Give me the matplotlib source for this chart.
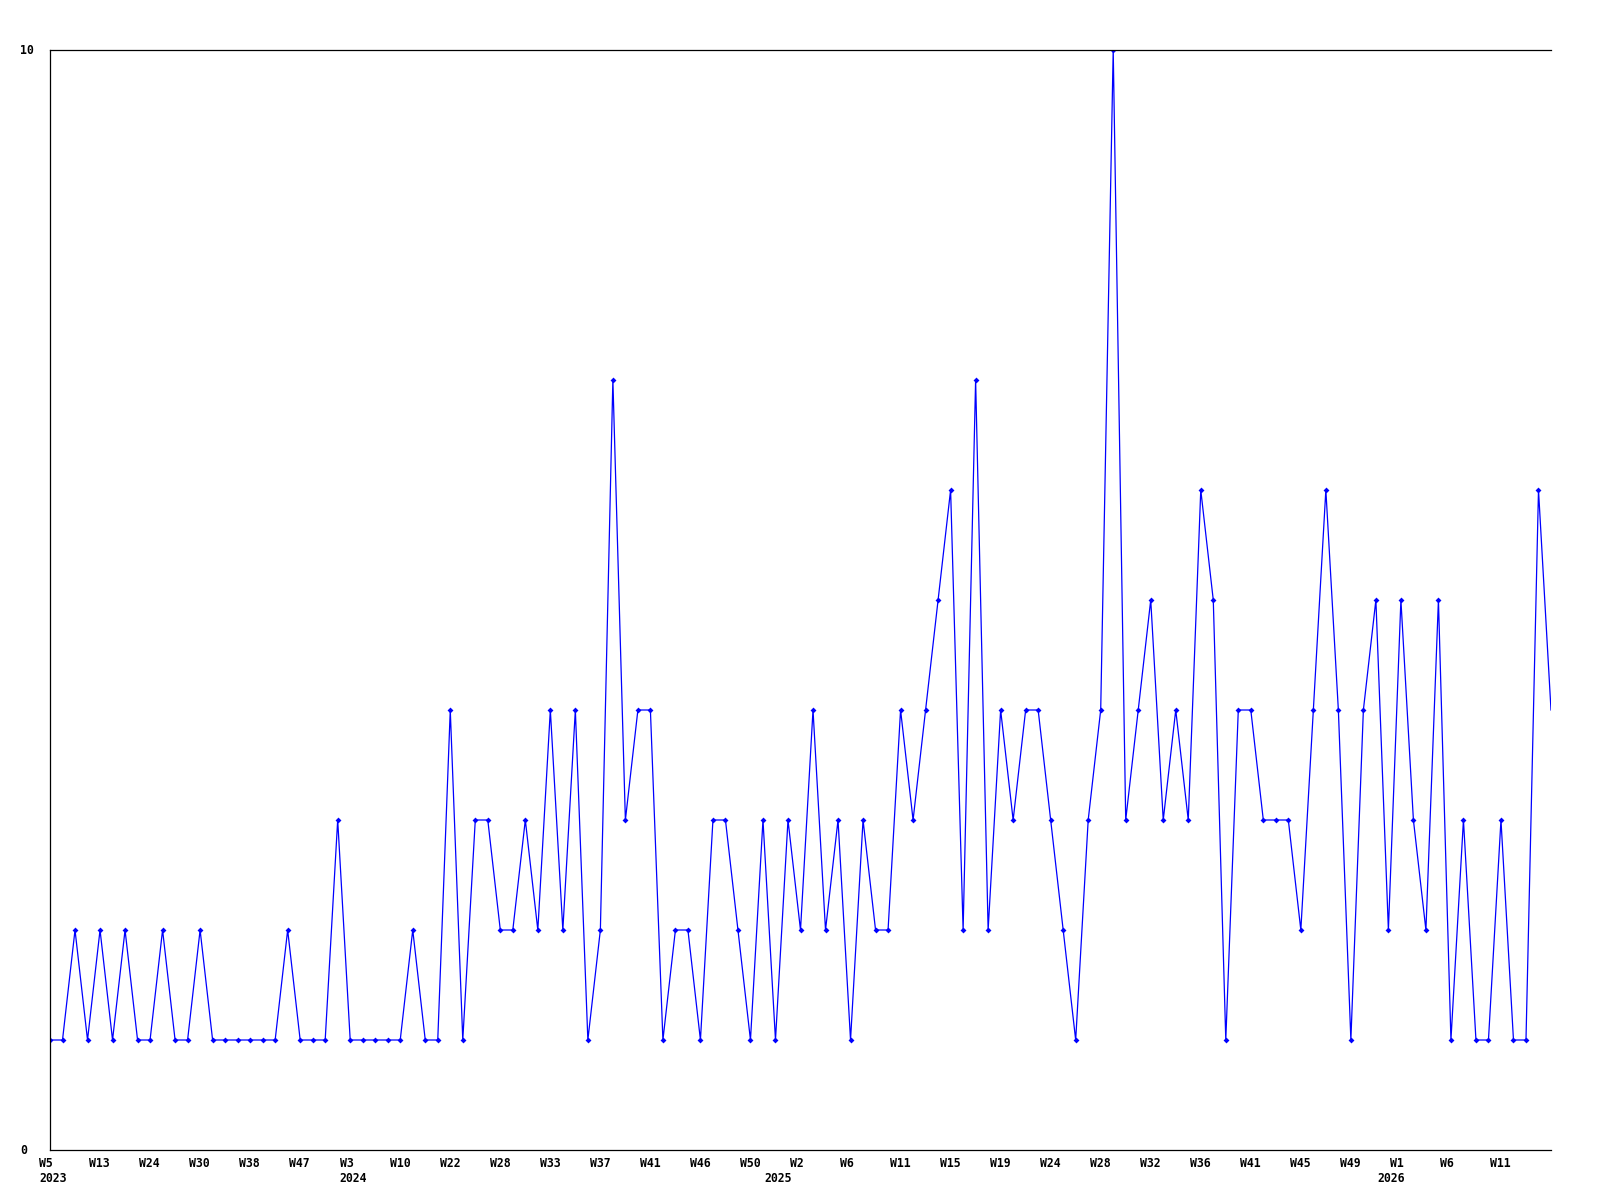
import matplotlib
matplotlib.use('Agg')
import matplotlib.pyplot as plt
import numpy as np

# weekly counts, one point per sample
values = [1, 1, 2, 1, 2, 1, 2, 1, 1, 2,
          1, 1, 2, 1, 1, 1, 1, 1, 1, 2,
          1, 1, 1, 3, 1, 1, 1, 1, 1, 2,
          1, 1, 4, 1, 3, 3, 2, 2, 3, 2,
          4, 2, 4, 1, 2, 7, 3, 4, 4, 1,
          2, 2, 1, 3, 3, 2, 1, 3, 1, 3,
          2, 4, 2, 3, 1, 3, 2, 2, 4, 3,
          4, 5, 6, 2, 7, 2, 4, 3, 4, 4,
          3, 2, 1, 3, 4, 10, 3, 4, 5, 3,
          4, 3, 6, 5, 1, 4, 4, 3, 3, 3,
          2, 4, 6, 4, 1, 4, 5, 2, 5, 3,
          2, 5, 1, 3, 1, 1, 3, 1, 1, 6,
          4]

week_labels = ['W5', 'W13', 'W24', 'W30', 'W38', 'W47', 'W3', 'W10', 'W22', 'W28',
               'W33', 'W37', 'W41', 'W46', 'W50', 'W2', 'W6', 'W11', 'W15', 'W19',
               'W24', 'W28', 'W32', 'W36', 'W41', 'W45', 'W49', 'W1', 'W6', 'W11']
week_pos = list(range(0, 120, 4))

years = ['2023', '2024', '2025', '2026']
year_pos = [0, 24, 58, 107]

FONT = dict(family='DejaVu Sans Mono', weight='bold', size=8.3)

x = np.arange(len(values))

fig = plt.figure(figsize=(16, 12), dpi=100)
ax = fig.add_axes([50 / 1600, 50 / 1200, 1501 / 1600, 1100 / 1200])

ax.plot(x, values, color='#0000ff', linewidth=0.9, marker='D', markersize=3,
        markeredgewidth=0, markevery=slice(0, len(values) - 1))

ax.set_xlim(0, len(values) - 1)
ax.set_ylim(0, 10)
ax.set_xticks([])
ax.set_yticks([])
ax.spines['right'].set_visible(False)
for s in ['left', 'bottom', 'top']:
    ax.spines[s].set_linewidth(0.9)
    ax.spines[s].set_color('black')

for p, lab in zip(week_pos, week_labels):
    ax.annotate(lab, xy=(p, 0), xycoords=('data', 'axes fraction'),
                xytext=(-7.7, -5), textcoords='offset points',
                ha='left', va='top', **FONT)

for p, lab in zip(year_pos, years):
    ax.annotate(lab, xy=(p, 0), xycoords=('data', 'axes fraction'),
                xytext=(-7.7, -16), textcoords='offset points',
                ha='left', va='top', **FONT)

# y labels, left aligned at the figure edge
fig.text(20 / 1600, 1150 / 1200, '10', ha='left', va='center', **FONT)
fig.text(20 / 1600, 50 / 1200, '0', ha='left', va='center', **FONT)

fig.savefig('out.png', dpi=100)
